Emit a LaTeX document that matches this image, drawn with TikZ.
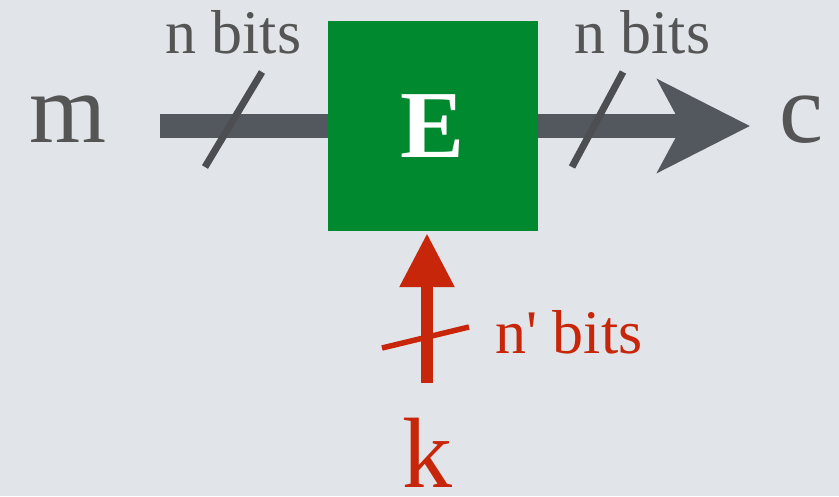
\documentclass[tikz,border=0pt]{standalone}
\usepackage{fontspec}
\setmainfont{Liberation Serif}[Ligatures=TeXOff]
\usetikzlibrary{arrows.meta}
\definecolor{bgc}{HTML}{E1E4E8}
\definecolor{txtgray}{HTML}{555555}
\definecolor{bargray}{HTML}{53575E}
\definecolor{slashgray}{HTML}{4C4E52}
\definecolor{boxgreen}{HTML}{00892F}
\definecolor{keyred}{HTML}{C8260A}
\tikzset{
  lbl/.style={inner sep=0pt, anchor=base west, text=txtgray},
  bigsym/.style={lbl, font=\fontsize{99}{99}\selectfont},
  bitlbl/.style={lbl, font=\fontsize{62}{62}\selectfont},
  bar/.style={draw=bargray, line width=24pt},
  gslash/.style={draw=slashgray, line width=7pt},
  rslash/.style={draw=keyred, line width=5.5pt},
}
\begin{document}
\begin{tikzpicture}[x=1pt,y=-1pt]
\fill[bgc] (0,0) rectangle (839,496);
\useasboundingbox (0,0) rectangle (839,496);

% box
\node[fill=boxgreen, minimum width=210pt, minimum height=210pt, inner sep=0pt,
      text=white, font=\fontsize{96}{96}\selectfont\bfseries] (E) at (433,126) {E};

% labels
\node[bigsym] (m) at (29,142) {m};
\node[bigsym] (c) at (779,142) {c};
\node[bitlbl] (nin) at (165,53) {n bits};
\node[bitlbl] (nout) at (574,53) {n bits};
\node[bitlbl, text=keyred] (nk) at (495,353) {n' bits};
\node[lbl, text=keyred, font=\fontsize{100}{100}\selectfont] (k) at (402,487) {k};

% connector end points
\coordinate (min) at (160,126);
\coordinate (cout) at (750,126);
\coordinate (kin) at (427,383);

% input bar
\draw[bar] (min) -- (E.west);
% output arrow
\draw[bar, -{Stealth[length=92pt, width=92pt, inset=24pt, fill=bargray]}] (E.east) -- (cout);
% key arrow
\draw[draw=keyred, line width=12pt, shorten >=2pt,
      -{Triangle[length=54pt, width=52pt, fill=keyred]}] (kin) -- (kin |- E.south);

% bit-width slashes
\draw[gslash] (205,167) -- (262,72);
\draw[gslash] (572,167) -- (623,72);
\draw[rslash] (382,348) -- (469,327);
\end{tikzpicture}
\end{document}
